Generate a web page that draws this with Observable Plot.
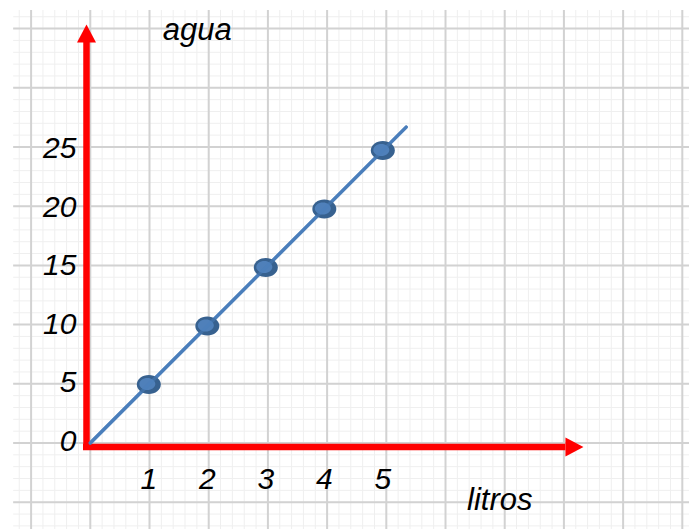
<!DOCTYPE html>
<html>
<head>
<meta charset="utf-8">
<script src="https://cdn.jsdelivr.net/npm/d3@7"></script>
<script src="https://cdn.jsdelivr.net/npm/@observablehq/plot@0.6"></script>
<style>
  html, body { margin: 0; padding: 0; background: #fff; }
  #chart svg { display: block; }
</style>
</head>
<body>
<div id="chart"></div>
<script>
// Data
const litros = [1, 2, 3, 4, 5];
const agua = [5, 10, 15, 20, 25];
const lineLitros = [0, 5.4];
const lineAgua = [0, 27];
const xTickLabels = [1, 2, 3, 4, 5];
const yTickLabels = [0, 5, 10, 15, 20, 25];
const xLabel = "litros";
const yLabel = "agua";

const points = litros.map((l, i) => ({x: l, y: agua[i]}));
const lineData = lineLitros.map((l, i) => ({x: l, y: lineAgua[i]}));

// graph-paper grid (decoration)
const gx0 = -1.31, gx1 = 10.3, gy0 = -7.5, gy1 = 36.97;
const gStepX = 1.012, gStepY = 5.06;
const majorX = d3.range(-1, 11).map(k => k * gStepX);
const minorX = d3.range(-6, 51).map(k => k * gStepX / 5);
const majorY = d3.range(-1, 8).map(k => k * gStepY);
const minorY = d3.range(-7, 37).map(k => k * gStepY / 5);

const ellipse = (rx, ry) => ({
  draw(ctx) {
    const k = 0.5523;
    ctx.moveTo(rx, 0);
    ctx.bezierCurveTo(rx, k * ry, k * rx, ry, 0, ry);
    ctx.bezierCurveTo(-k * rx, ry, -rx, k * ry, -rx, 0);
    ctx.bezierCurveTo(-rx, -k * ry, -k * rx, -ry, 0, -ry);
    ctx.bezierCurveTo(k * rx, -ry, rx, -k * ry, rx, 0);
    ctx.closePath();
  }
});
const arrowHead = {
  draw(ctx) {
    ctx.moveTo(0, 0);
    ctx.lineTo(-9.5, 18);
    ctx.lineTo(9.5, 18);
    ctx.closePath();
  }
};

const font = "'Liberation Sans', Arial, sans-serif";
const axX = -0.065, axY = -0.34;

const chart = Plot.plot({
  width: 689,
  height: 529,
  margin: 0,
  style: {background: "#fff", fontFamily: font},
  x: {domain: [-89.8 / 58.5, (689 - 89.8) / 58.5], range: [0, 689], axis: null},
  y: {domain: [(442.5 - 529) / 11.7, 442.5 / 11.7], range: [529, 0], axis: null},
  marks: [
    Plot.ruleX(minorX, {y1: gy0, y2: gy1, stroke: "#efefef", strokeWidth: 1}),
    Plot.ruleY(minorY, {x1: gx0, x2: gx1, stroke: "#efefef", strokeWidth: 1}),
    Plot.ruleX(majorX, {y1: gy0, y2: gy1, stroke: "#d2d2d2", strokeWidth: 2}),
    Plot.ruleY(majorY, {x1: gx0, x2: gx1, stroke: "#d2d2d2", strokeWidth: 2}),
    // red axes
    Plot.ruleX([axX], {y1: -0.64, y2: 34.3, stroke: "#ff0000", strokeWidth: 6.5}),
    Plot.ruleY([axY], {x1: -0.116, x2: 8.13, stroke: "#ff0000", strokeWidth: 6.5}),
    Plot.dot([{x: axX, y: 35.77}], {x: "x", y: "y", symbol: arrowHead, fill: "#ff0000", stroke: "none"}),
    Plot.dot([{x: 8.43, y: axY}], {x: "x", y: "y", symbol: arrowHead, rotate: 90, fill: "#ff0000", stroke: "none"}),
    // line
    Plot.line(lineData, {x: "x", y: "y", stroke: "#4a7ebb", strokeWidth: 3.4}),
    // points
    Plot.dot(points, {x: "x", y: "y", symbol: ellipse(12, 9.5), fill: "#37618f", stroke: "none"}),
    Plot.dot(points, {x: "x", y: "y", symbol: ellipse(8, 6), fill: "#4f80ba", stroke: "none", dx: -1.5, dy: -0.5}),
    Plot.line(lineData, {x: "x", y: "y", stroke: "#4a7ebb", strokeWidth: 3.4, strokeOpacity: 0.5}),
    // tick labels
    Plot.text(yTickLabels, {x: axX, y: d => d, text: d => String(d), textAnchor: "end", dx: -10, dy: -2,
      fontSize: 30, fontStyle: "italic", fill: "#000"}),
    Plot.text(xTickLabels, {x: d => d, y: axY, text: d => String(d), dy: 32,
      fontSize: 30, fontStyle: "italic", fill: "#000"}),
    // axis labels
    Plot.text([yLabel], {x: 1.83, y: 35.3, text: d => d, fontSize: 31, fontStyle: "italic", fill: "#000"}),
    Plot.text([xLabel], {x: 7.0, y: -4.9, text: d => d, fontSize: 31, fontStyle: "italic", fill: "#000"})
  ]
});
document.getElementById("chart").appendChild(chart);
</script>
</body>
</html>
